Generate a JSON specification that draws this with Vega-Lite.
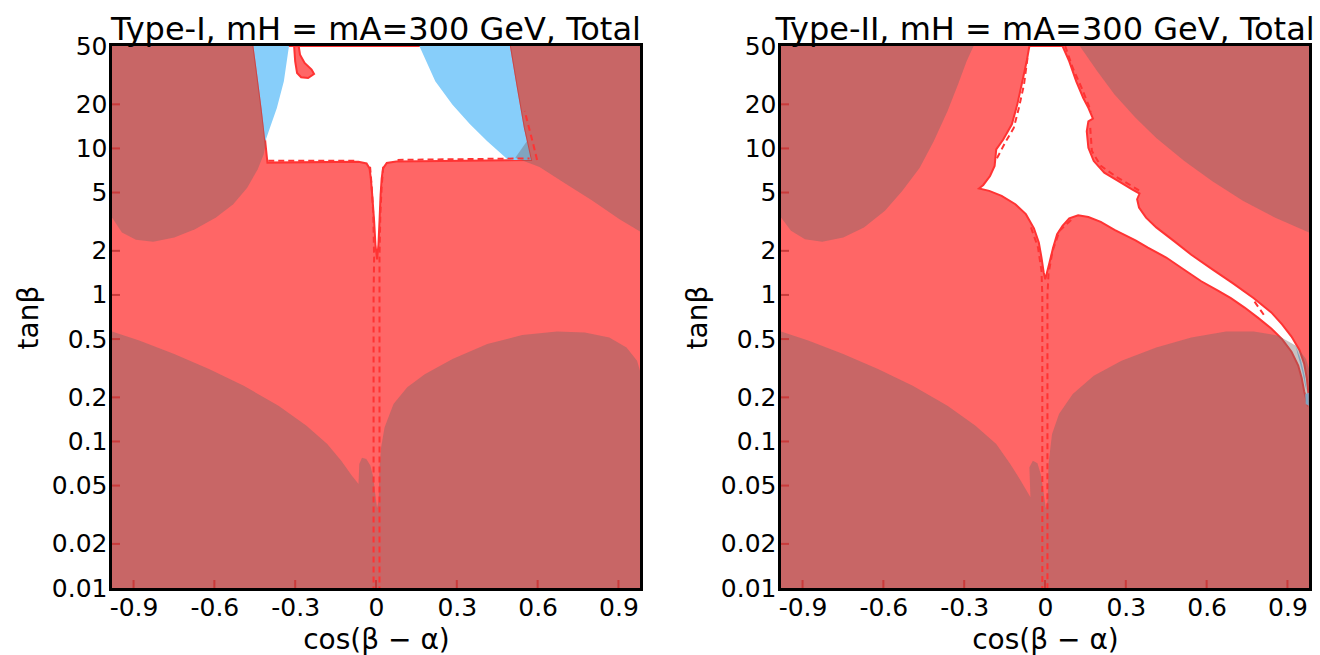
{
"$schema": "https://vega.github.io/schema/vega-lite/v6.json",
"padding": {"left": 12, "top": 11, "right": 5, "bottom": 0},
"spacing": 37,
"config": {
  "font": "DejaVu Sans",
  "view": {"stroke": "black", "strokeWidth": 6},
  "axis": {"grid": false, "domain": false, "ticks": false, "labelFontSize": 25, "labelColor": "black", "titleFontSize": 28, "titleFontWeight": "normal", "titleColor": "black", "labelFlush": false, "labelOverlap": false},
  "title": {"fontSize": 32, "fontWeight": "normal", "color": "black", "anchor": "middle", "offset": -13, "baseline": "alphabetic"}
},
"data": {"values": [
{"p":"I","c":"bg","id":0,"o":0,"x":-0.98,"y":0.01},
{"p":"I","c":"bg","id":0,"o":1,"x":0.98,"y":0.01},
{"p":"I","c":"bg","id":0,"o":2,"x":0.98,"y":50},
{"p":"I","c":"bg","id":0,"o":3,"x":-0.98,"y":50},
{"p":"I","c":"bg","id":0,"o":4,"x":-0.98,"y":0.01},

{"p":"I","c":"w","id":1,"o":0,"x":-0.455,"y":50},
{"p":"I","c":"w","id":1,"o":1,"x":-0.433,"y":24.5},
{"p":"I","c":"w","id":1,"o":2,"x":-0.416,"y":13.8},
{"p":"I","c":"w","id":1,"o":3,"x":-0.41,"y":10.6},
{"p":"I","c":"w","id":1,"o":4,"x":-0.403,"y":8.0},
{"p":"I","c":"w","id":1,"o":5,"x":-0.065,"y":8.1},
{"p":"I","c":"w","id":1,"o":6,"x":-0.035,"y":7.9},
{"p":"I","c":"w","id":1,"o":7,"x":-0.024,"y":7.3},
{"p":"I","c":"w","id":1,"o":8,"x":-0.019,"y":6.2},
{"p":"I","c":"w","id":1,"o":9,"x":-0.014,"y":4.8},
{"p":"I","c":"w","id":1,"o":10,"x":-0.007,"y":3.2},
{"p":"I","c":"w","id":1,"o":11,"x":-0.002,"y":2.2},
{"p":"I","c":"w","id":1,"o":12,"x":0.004,"y":1.75},
{"p":"I","c":"w","id":1,"o":13,"x":0.009,"y":2.2},
{"p":"I","c":"w","id":1,"o":14,"x":0.013,"y":3.2},
{"p":"I","c":"w","id":1,"o":15,"x":0.017,"y":4.8},
{"p":"I","c":"w","id":1,"o":16,"x":0.021,"y":6.2},
{"p":"I","c":"w","id":1,"o":17,"x":0.026,"y":7.3},
{"p":"I","c":"w","id":1,"o":18,"x":0.04,"y":7.95},
{"p":"I","c":"w","id":1,"o":19,"x":0.075,"y":8.15},
{"p":"I","c":"w","id":1,"o":20,"x":0.575,"y":8.35},
{"p":"I","c":"w","id":1,"o":21,"x":0.56,"y":11.2},
{"p":"I","c":"w","id":1,"o":22,"x":0.549,"y":13.8},
{"p":"I","c":"w","id":1,"o":23,"x":0.523,"y":25.9},
{"p":"I","c":"w","id":1,"o":24,"x":0.497,"y":50},
{"p":"I","c":"w","id":1,"o":25,"x":-0.455,"y":50},

{"p":"I","c":"b","id":2,"o":0,"x":-0.455,"y":50},
{"p":"I","c":"b","id":2,"o":1,"x":-0.323,"y":50},
{"p":"I","c":"b","id":2,"o":2,"x":-0.342,"y":28.7},
{"p":"I","c":"b","id":2,"o":3,"x":-0.368,"y":18.9},
{"p":"I","c":"b","id":2,"o":4,"x":-0.394,"y":13.8},
{"p":"I","c":"b","id":2,"o":5,"x":-0.411,"y":11.2},
{"p":"I","c":"b","id":2,"o":6,"x":-0.425,"y":18.9},
{"p":"I","c":"b","id":2,"o":7,"x":-0.441,"y":31.9},
{"p":"I","c":"b","id":2,"o":8,"x":-0.455,"y":50},

{"p":"I","c":"b","id":3,"o":0,"x":0.161,"y":50},
{"p":"I","c":"b","id":3,"o":1,"x":0.22,"y":28.7},
{"p":"I","c":"b","id":3,"o":2,"x":0.284,"y":19.9},
{"p":"I","c":"b","id":3,"o":3,"x":0.349,"y":14.6},
{"p":"I","c":"b","id":3,"o":4,"x":0.413,"y":11.2},
{"p":"I","c":"b","id":3,"o":5,"x":0.491,"y":8.32},
{"p":"I","c":"b","id":3,"o":6,"x":0.575,"y":8.35},
{"p":"I","c":"b","id":3,"o":7,"x":0.56,"y":11.2},
{"p":"I","c":"b","id":3,"o":8,"x":0.549,"y":13.8},
{"p":"I","c":"b","id":3,"o":9,"x":0.523,"y":25.9},
{"p":"I","c":"b","id":3,"o":10,"x":0.497,"y":50},
{"p":"I","c":"b","id":3,"o":11,"x":0.161,"y":50},

{"p":"I","c":"r","id":4,"o":0,"x":-0.304,"y":50},
{"p":"I","c":"r","id":4,"o":1,"x":-0.3,"y":39.3},
{"p":"I","c":"r","id":4,"o":2,"x":-0.293,"y":32.7},
{"p":"I","c":"r","id":4,"o":3,"x":-0.278,"y":30.6},
{"p":"I","c":"r","id":4,"o":4,"x":-0.252,"y":30.2},
{"p":"I","c":"r","id":4,"o":5,"x":-0.23,"y":32.2},
{"p":"I","c":"r","id":4,"o":6,"x":-0.239,"y":34.5},
{"p":"I","c":"r","id":4,"o":7,"x":-0.265,"y":38.3},
{"p":"I","c":"r","id":4,"o":8,"x":-0.282,"y":43.6},
{"p":"I","c":"r","id":4,"o":9,"x":-0.287,"y":50},
{"p":"I","c":"r","id":4,"o":10,"x":-0.304,"y":50},

{"p":"I","c":"d","id":5,"o":0,"x":-0.98,"y":50},
{"p":"I","c":"d","id":5,"o":1,"x":-0.455,"y":50},
{"p":"I","c":"d","id":5,"o":2,"x":-0.433,"y":24.5},
{"p":"I","c":"d","id":5,"o":3,"x":-0.416,"y":13.8},
{"p":"I","c":"d","id":5,"o":4,"x":-0.41,"y":10.6},
{"p":"I","c":"d","id":5,"o":5,"x":-0.417,"y":9.1},
{"p":"I","c":"d","id":5,"o":6,"x":-0.439,"y":7.2},
{"p":"I","c":"d","id":5,"o":7,"x":-0.478,"y":5.4},
{"p":"I","c":"d","id":5,"o":8,"x":-0.53,"y":4.16},
{"p":"I","c":"d","id":5,"o":9,"x":-0.594,"y":3.38},
{"p":"I","c":"d","id":5,"o":10,"x":-0.672,"y":2.81},
{"p":"I","c":"d","id":5,"o":11,"x":-0.749,"y":2.47},
{"p":"I","c":"d","id":5,"o":12,"x":-0.827,"y":2.31},
{"p":"I","c":"d","id":5,"o":13,"x":-0.891,"y":2.38},
{"p":"I","c":"d","id":5,"o":14,"x":-0.943,"y":2.67},
{"p":"I","c":"d","id":5,"o":15,"x":-0.98,"y":3.38},
{"p":"I","c":"d","id":5,"o":16,"x":-0.98,"y":50},

{"p":"I","c":"d","id":6,"o":0,"x":0.497,"y":50},
{"p":"I","c":"d","id":6,"o":1,"x":0.98,"y":50},
{"p":"I","c":"d","id":6,"o":2,"x":0.98,"y":2.71},
{"p":"I","c":"d","id":6,"o":3,"x":0.904,"y":3.29},
{"p":"I","c":"d","id":6,"o":4,"x":0.801,"y":4.43},
{"p":"I","c":"d","id":6,"o":5,"x":0.698,"y":5.84},
{"p":"I","c":"d","id":6,"o":6,"x":0.607,"y":7.46},
{"p":"I","c":"d","id":6,"o":7,"x":0.517,"y":8.64},
{"p":"I","c":"d","id":6,"o":8,"x":0.56,"y":11.2},
{"p":"I","c":"d","id":6,"o":9,"x":0.549,"y":13.8},
{"p":"I","c":"d","id":6,"o":10,"x":0.523,"y":25.9},
{"p":"I","c":"d","id":6,"o":11,"x":0.497,"y":50},

{"p":"I","c":"d","id":7,"o":0,"x":-0.98,"y":0.01},
{"p":"I","c":"d","id":7,"o":1,"x":-0.98,"y":0.564},
{"p":"I","c":"d","id":7,"o":2,"x":-0.879,"y":0.488},
{"p":"I","c":"d","id":7,"o":3,"x":-0.749,"y":0.395},
{"p":"I","c":"d","id":7,"o":4,"x":-0.62,"y":0.312},
{"p":"I","c":"d","id":7,"o":5,"x":-0.491,"y":0.24},
{"p":"I","c":"d","id":7,"o":6,"x":-0.362,"y":0.175},
{"p":"I","c":"d","id":7,"o":7,"x":-0.258,"y":0.128},
{"p":"I","c":"d","id":7,"o":8,"x":-0.181,"y":0.0962},
{"p":"I","c":"d","id":7,"o":9,"x":-0.129,"y":0.074},
{"p":"I","c":"d","id":7,"o":10,"x":-0.09,"y":0.0585},
{"p":"I","c":"d","id":7,"o":11,"x":-0.065,"y":0.0513},
{"p":"I","c":"d","id":7,"o":12,"x":-0.062,"y":0.0703},
{"p":"I","c":"d","id":7,"o":13,"x":-0.052,"y":0.0773},
{"p":"I","c":"d","id":7,"o":14,"x":-0.036,"y":0.076},
{"p":"I","c":"d","id":7,"o":15,"x":-0.021,"y":0.0685},
{"p":"I","c":"d","id":7,"o":16,"x":-0.01,"y":0.057},
{"p":"I","c":"d","id":7,"o":17,"x":-0.003,"y":0.0439},
{"p":"I","c":"d","id":7,"o":18,"x":0.004,"y":0.035},
{"p":"I","c":"d","id":7,"o":19,"x":0.004,"y":0.01},
{"p":"I","c":"d","id":7,"o":20,"x":-0.98,"y":0.01},

{"p":"I","c":"d","id":8,"o":0,"x":0.004,"y":0.01},
{"p":"I","c":"d","id":8,"o":1,"x":0.004,"y":0.035},
{"p":"I","c":"d","id":8,"o":2,"x":0.01,"y":0.0395},
{"p":"I","c":"d","id":8,"o":3,"x":0.013,"y":0.0667},
{"p":"I","c":"d","id":8,"o":4,"x":0.019,"y":0.0912},
{"p":"I","c":"d","id":8,"o":5,"x":0.032,"y":0.125},
{"p":"I","c":"d","id":8,"o":6,"x":0.065,"y":0.18},
{"p":"I","c":"d","id":8,"o":7,"x":0.116,"y":0.234},
{"p":"I","c":"d","id":8,"o":8,"x":0.181,"y":0.288},
{"p":"I","c":"d","id":8,"o":9,"x":0.284,"y":0.366},
{"p":"I","c":"d","id":8,"o":10,"x":0.413,"y":0.462},
{"p":"I","c":"d","id":8,"o":11,"x":0.543,"y":0.532},
{"p":"I","c":"d","id":8,"o":12,"x":0.672,"y":0.564},
{"p":"I","c":"d","id":8,"o":13,"x":0.775,"y":0.555},
{"p":"I","c":"d","id":8,"o":14,"x":0.866,"y":0.513},
{"p":"I","c":"d","id":8,"o":15,"x":0.93,"y":0.438},
{"p":"I","c":"d","id":8,"o":16,"x":0.969,"y":0.356},
{"p":"I","c":"d","id":8,"o":17,"x":0.98,"y":0.304},
{"p":"I","c":"d","id":8,"o":18,"x":0.98,"y":0.01},
{"p":"I","c":"d","id":8,"o":19,"x":0.004,"y":0.01},

{"p":"I","c":"s","id":10,"o":0,"x":-0.022,"y":7.5},
{"p":"I","c":"s","id":10,"o":1,"x":-0.016,"y":5.5},
{"p":"I","c":"s","id":10,"o":2,"x":-0.01,"y":3.5},
{"p":"I","c":"s","id":10,"o":3,"x":-0.007,"y":1.8},
{"p":"I","c":"s","id":10,"o":4,"x":-0.009,"y":1.0},
{"p":"I","c":"s","id":10,"o":5,"x":-0.009,"y":0.01},
{"p":"I","c":"s","id":11,"o":0,"x":0.027,"y":7.5},
{"p":"I","c":"s","id":11,"o":1,"x":0.021,"y":5.5},
{"p":"I","c":"s","id":11,"o":2,"x":0.016,"y":3.5},
{"p":"I","c":"s","id":11,"o":3,"x":0.013,"y":1.8},
{"p":"I","c":"s","id":11,"o":4,"x":0.013,"y":1.0},
{"p":"I","c":"s","id":11,"o":5,"x":0.013,"y":0.01},
{"p":"I","c":"s","id":12,"o":0,"x":0.598,"y":8.35},
{"p":"I","c":"s","id":12,"o":1,"x":0.582,"y":11.0},
{"p":"I","c":"s","id":12,"o":2,"x":0.565,"y":14.5},
{"p":"I","c":"s","id":12,"o":3,"x":0.552,"y":18.0},
{"p":"I","c":"s","id":13,"o":0,"x":-0.4,"y":8.25},
{"p":"I","c":"s","id":13,"o":1,"x":-0.07,"y":8.25},
{"p":"I","c":"s","id":14,"o":0,"x":0.08,"y":8.35},
{"p":"I","c":"s","id":14,"o":1,"x":0.57,"y":8.55},

{"p":"I","c":"t","id":20,"o":0,"x":-0.9,"y":0.01},{"p":"I","c":"t","id":20,"o":1,"x":-0.9,"y":0.01134},
{"p":"I","c":"t","id":21,"o":0,"x":-0.6,"y":0.01},{"p":"I","c":"t","id":21,"o":1,"x":-0.6,"y":0.01134},
{"p":"I","c":"t","id":22,"o":0,"x":-0.3,"y":0.01},{"p":"I","c":"t","id":22,"o":1,"x":-0.3,"y":0.01134},
{"p":"I","c":"t","id":23,"o":0,"x":0,"y":0.01},{"p":"I","c":"t","id":23,"o":1,"x":0,"y":0.01134},
{"p":"I","c":"t","id":24,"o":0,"x":0.3,"y":0.01},{"p":"I","c":"t","id":24,"o":1,"x":0.3,"y":0.01134},
{"p":"I","c":"t","id":25,"o":0,"x":0.6,"y":0.01},{"p":"I","c":"t","id":25,"o":1,"x":0.6,"y":0.01134},
{"p":"I","c":"t","id":26,"o":0,"x":0.9,"y":0.01},{"p":"I","c":"t","id":26,"o":1,"x":0.9,"y":0.01134},
{"p":"I","c":"t","id":27,"o":0,"x":-0.98,"y":0.02},{"p":"I","c":"t","id":27,"o":1,"x":-0.9503,"y":0.02},
{"p":"I","c":"t","id":28,"o":0,"x":-0.98,"y":0.05},{"p":"I","c":"t","id":28,"o":1,"x":-0.9503,"y":0.05},
{"p":"I","c":"t","id":29,"o":0,"x":-0.98,"y":0.1},{"p":"I","c":"t","id":29,"o":1,"x":-0.9503,"y":0.1},
{"p":"I","c":"t","id":30,"o":0,"x":-0.98,"y":0.2},{"p":"I","c":"t","id":30,"o":1,"x":-0.9503,"y":0.2},
{"p":"I","c":"t","id":31,"o":0,"x":-0.98,"y":0.5},{"p":"I","c":"t","id":31,"o":1,"x":-0.9503,"y":0.5},
{"p":"I","c":"t","id":32,"o":0,"x":-0.98,"y":1},{"p":"I","c":"t","id":32,"o":1,"x":-0.9503,"y":1},
{"p":"I","c":"t","id":33,"o":0,"x":-0.98,"y":2},{"p":"I","c":"t","id":33,"o":1,"x":-0.9503,"y":2},
{"p":"I","c":"t","id":34,"o":0,"x":-0.98,"y":5},{"p":"I","c":"t","id":34,"o":1,"x":-0.9503,"y":5},
{"p":"I","c":"t","id":35,"o":0,"x":-0.98,"y":10},{"p":"I","c":"t","id":35,"o":1,"x":-0.9503,"y":10},
{"p":"I","c":"t","id":36,"o":0,"x":-0.98,"y":20},{"p":"I","c":"t","id":36,"o":1,"x":-0.9503,"y":20},

{"p":"II","c":"bg","id":0,"o":0,"x":-0.98,"y":0.01},
{"p":"II","c":"bg","id":0,"o":1,"x":0.98,"y":0.01},
{"p":"II","c":"bg","id":0,"o":2,"x":0.98,"y":50},
{"p":"II","c":"bg","id":0,"o":3,"x":-0.98,"y":50},
{"p":"II","c":"bg","id":0,"o":4,"x":-0.98,"y":0.01},

{"p":"II","c":"w","id":1,"o":0,"x":-0.058,"y":50},
{"p":"II","c":"w","id":1,"o":1,"x":0.065,"y":50},
{"p":"II","c":"w","id":1,"o":2,"x":0.09,"y":39.3},
{"p":"II","c":"w","id":1,"o":3,"x":0.116,"y":28.7},
{"p":"II","c":"w","id":1,"o":4,"x":0.142,"y":22.1},
{"p":"II","c":"w","id":1,"o":5,"x":0.161,"y":18.9},
{"p":"II","c":"w","id":1,"o":6,"x":0.178,"y":16.0},
{"p":"II","c":"w","id":1,"o":7,"x":0.161,"y":15.3},
{"p":"II","c":"w","id":1,"o":8,"x":0.155,"y":13.1},
{"p":"II","c":"w","id":1,"o":9,"x":0.161,"y":10.1},
{"p":"II","c":"w","id":1,"o":10,"x":0.181,"y":8.2},
{"p":"II","c":"w","id":1,"o":11,"x":0.22,"y":6.83},
{"p":"II","c":"w","id":1,"o":12,"x":0.271,"y":6.0},
{"p":"II","c":"w","id":1,"o":13,"x":0.323,"y":5.26},
{"p":"II","c":"w","id":1,"o":14,"x":0.351,"y":4.92},
{"p":"II","c":"w","id":1,"o":15,"x":0.342,"y":4.5},
{"p":"II","c":"w","id":1,"o":16,"x":0.349,"y":3.95},
{"p":"II","c":"w","id":1,"o":17,"x":0.375,"y":3.37},
{"p":"II","c":"w","id":1,"o":18,"x":0.413,"y":2.89},
{"p":"II","c":"w","id":1,"o":19,"x":0.478,"y":2.34},
{"p":"II","c":"w","id":1,"o":20,"x":0.543,"y":1.88},
{"p":"II","c":"w","id":1,"o":21,"x":0.62,"y":1.5},
{"p":"II","c":"w","id":1,"o":22,"x":0.698,"y":1.2},
{"p":"II","c":"w","id":1,"o":23,"x":0.775,"y":0.95},
{"p":"II","c":"w","id":1,"o":24,"x":0.84,"y":0.76},
{"p":"II","c":"w","id":1,"o":25,"x":0.88,"y":0.63},
{"p":"II","c":"w","id":1,"o":26,"x":0.915,"y":0.52},
{"p":"II","c":"w","id":1,"o":27,"x":0.945,"y":0.42},
{"p":"II","c":"w","id":1,"o":28,"x":0.962,"y":0.34},
{"p":"II","c":"w","id":1,"o":29,"x":0.972,"y":0.27},
{"p":"II","c":"w","id":1,"o":30,"x":0.978,"y":0.21},
{"p":"II","c":"w","id":1,"o":31,"x":0.979,"y":0.19},
{"p":"II","c":"w","id":1,"o":32,"x":0.974,"y":0.18},
{"p":"II","c":"w","id":1,"o":33,"x":0.962,"y":0.22},
{"p":"II","c":"w","id":1,"o":34,"x":0.953,"y":0.27},
{"p":"II","c":"w","id":1,"o":35,"x":0.94,"y":0.33},
{"p":"II","c":"w","id":1,"o":36,"x":0.915,"y":0.41},
{"p":"II","c":"w","id":1,"o":37,"x":0.88,"y":0.5},
{"p":"II","c":"w","id":1,"o":38,"x":0.84,"y":0.59},
{"p":"II","c":"w","id":1,"o":39,"x":0.79,"y":0.7},
{"p":"II","c":"w","id":1,"o":40,"x":0.741,"y":0.82},
{"p":"II","c":"w","id":1,"o":41,"x":0.69,"y":0.95},
{"p":"II","c":"w","id":1,"o":42,"x":0.642,"y":1.07},
{"p":"II","c":"w","id":1,"o":43,"x":0.58,"y":1.24},
{"p":"II","c":"w","id":1,"o":44,"x":0.518,"y":1.48},
{"p":"II","c":"w","id":1,"o":45,"x":0.45,"y":1.8},
{"p":"II","c":"w","id":1,"o":46,"x":0.382,"y":2.1},
{"p":"II","c":"w","id":1,"o":47,"x":0.336,"y":2.36},
{"p":"II","c":"w","id":1,"o":48,"x":0.258,"y":2.78},
{"p":"II","c":"w","id":1,"o":49,"x":0.207,"y":3.15},
{"p":"II","c":"w","id":1,"o":50,"x":0.161,"y":3.4},
{"p":"II","c":"w","id":1,"o":51,"x":0.123,"y":3.5},
{"p":"II","c":"w","id":1,"o":52,"x":0.09,"y":3.33},
{"p":"II","c":"w","id":1,"o":53,"x":0.065,"y":2.96},
{"p":"II","c":"w","id":1,"o":54,"x":0.045,"y":2.6},
{"p":"II","c":"w","id":1,"o":55,"x":0.03,"y":2.1},
{"p":"II","c":"w","id":1,"o":56,"x":0.017,"y":1.67},
{"p":"II","c":"w","id":1,"o":57,"x":0.006,"y":1.39},
{"p":"II","c":"w","id":1,"o":58,"x":0.001,"y":1.28},
{"p":"II","c":"w","id":1,"o":59,"x":-0.005,"y":1.43},
{"p":"II","c":"w","id":1,"o":60,"x":-0.013,"y":1.8},
{"p":"II","c":"w","id":1,"o":61,"x":-0.023,"y":2.28},
{"p":"II","c":"w","id":1,"o":62,"x":-0.041,"y":2.85},
{"p":"II","c":"w","id":1,"o":63,"x":-0.071,"y":3.56},
{"p":"II","c":"w","id":1,"o":64,"x":-0.11,"y":4.16},
{"p":"II","c":"w","id":1,"o":65,"x":-0.161,"y":4.74},
{"p":"II","c":"w","id":1,"o":66,"x":-0.207,"y":5.13},
{"p":"II","c":"w","id":1,"o":67,"x":-0.245,"y":5.32},
{"p":"II","c":"w","id":1,"o":68,"x":-0.229,"y":5.63},
{"p":"II","c":"w","id":1,"o":69,"x":-0.204,"y":6.48},
{"p":"II","c":"w","id":1,"o":70,"x":-0.187,"y":7.59},
{"p":"II","c":"w","id":1,"o":71,"x":-0.181,"y":9.85},
{"p":"II","c":"w","id":1,"o":72,"x":-0.155,"y":11.5},
{"p":"II","c":"w","id":1,"o":73,"x":-0.123,"y":14.6},
{"p":"II","c":"w","id":1,"o":74,"x":-0.103,"y":19.9},
{"p":"II","c":"w","id":1,"o":75,"x":-0.084,"y":28.7},
{"p":"II","c":"w","id":1,"o":76,"x":-0.068,"y":39.3},
{"p":"II","c":"w","id":1,"o":77,"x":-0.058,"y":50},

{"p":"II","c":"b","id":2,"o":0,"x":0.93,"y":0.45},
{"p":"II","c":"b","id":2,"o":1,"x":0.95,"y":0.36},
{"p":"II","c":"b","id":2,"o":2,"x":0.964,"y":0.28},
{"p":"II","c":"b","id":2,"o":3,"x":0.972,"y":0.22},
{"p":"II","c":"b","id":2,"o":4,"x":0.966,"y":0.24},
{"p":"II","c":"b","id":2,"o":5,"x":0.955,"y":0.3},
{"p":"II","c":"b","id":2,"o":6,"x":0.94,"y":0.38},
{"p":"II","c":"b","id":2,"o":7,"x":0.93,"y":0.45},
{"p":"II","c":"b","id":3,"o":0,"x":0.966,"y":0.21},
{"p":"II","c":"b","id":3,"o":1,"x":0.979,"y":0.215},
{"p":"II","c":"b","id":3,"o":2,"x":0.979,"y":0.175},
{"p":"II","c":"b","id":3,"o":3,"x":0.968,"y":0.18},
{"p":"II","c":"b","id":3,"o":4,"x":0.966,"y":0.21},

{"p":"II","c":"d","id":5,"o":0,"x":-0.98,"y":50},
{"p":"II","c":"d","id":5,"o":1,"x":-0.265,"y":50},
{"p":"II","c":"d","id":5,"o":2,"x":-0.291,"y":39.3},
{"p":"II","c":"d","id":5,"o":3,"x":-0.323,"y":27.3},
{"p":"II","c":"d","id":5,"o":4,"x":-0.362,"y":17.9},
{"p":"II","c":"d","id":5,"o":5,"x":-0.413,"y":11.2},
{"p":"II","c":"d","id":5,"o":6,"x":-0.465,"y":7.39},
{"p":"II","c":"d","id":5,"o":7,"x":-0.53,"y":5.13},
{"p":"II","c":"d","id":5,"o":8,"x":-0.594,"y":3.75},
{"p":"II","c":"d","id":5,"o":9,"x":-0.672,"y":2.89},
{"p":"II","c":"d","id":5,"o":10,"x":-0.749,"y":2.47},
{"p":"II","c":"d","id":5,"o":11,"x":-0.827,"y":2.31},
{"p":"II","c":"d","id":5,"o":12,"x":-0.891,"y":2.4},
{"p":"II","c":"d","id":5,"o":13,"x":-0.943,"y":2.74},
{"p":"II","c":"d","id":5,"o":14,"x":-0.98,"y":3.38},
{"p":"II","c":"d","id":5,"o":15,"x":-0.98,"y":50},

{"p":"II","c":"d","id":6,"o":0,"x":0.129,"y":50},
{"p":"II","c":"d","id":6,"o":1,"x":0.98,"y":50},
{"p":"II","c":"d","id":6,"o":2,"x":0.98,"y":2.67},
{"p":"II","c":"d","id":6,"o":3,"x":0.853,"y":3.38},
{"p":"II","c":"d","id":6,"o":4,"x":0.736,"y":4.38},
{"p":"II","c":"d","id":6,"o":5,"x":0.62,"y":6.0},
{"p":"II","c":"d","id":6,"o":6,"x":0.517,"y":8.2},
{"p":"II","c":"d","id":6,"o":7,"x":0.413,"y":11.8},
{"p":"II","c":"d","id":6,"o":8,"x":0.336,"y":16.2},
{"p":"II","c":"d","id":6,"o":9,"x":0.258,"y":23.3},
{"p":"II","c":"d","id":6,"o":10,"x":0.194,"y":33.6},
{"p":"II","c":"d","id":6,"o":11,"x":0.129,"y":50},

{"p":"II","c":"d","id":7,"o":0,"x":-0.98,"y":0.01},
{"p":"II","c":"d","id":7,"o":1,"x":-0.98,"y":0.564},
{"p":"II","c":"d","id":7,"o":2,"x":-0.879,"y":0.488},
{"p":"II","c":"d","id":7,"o":3,"x":-0.749,"y":0.395},
{"p":"II","c":"d","id":7,"o":4,"x":-0.62,"y":0.312},
{"p":"II","c":"d","id":7,"o":5,"x":-0.491,"y":0.24},
{"p":"II","c":"d","id":7,"o":6,"x":-0.362,"y":0.175},
{"p":"II","c":"d","id":7,"o":7,"x":-0.258,"y":0.128},
{"p":"II","c":"d","id":7,"o":8,"x":-0.181,"y":0.0962},
{"p":"II","c":"d","id":7,"o":9,"x":-0.129,"y":0.0703},
{"p":"II","c":"d","id":7,"o":10,"x":-0.09,"y":0.054},
{"p":"II","c":"d","id":7,"o":11,"x":-0.054,"y":0.0416},
{"p":"II","c":"d","id":7,"o":12,"x":-0.058,"y":0.0667},
{"p":"II","c":"d","id":7,"o":13,"x":-0.045,"y":0.074},
{"p":"II","c":"d","id":7,"o":14,"x":-0.028,"y":0.071},
{"p":"II","c":"d","id":7,"o":15,"x":-0.016,"y":0.06},
{"p":"II","c":"d","id":7,"o":16,"x":-0.006,"y":0.046},
{"p":"II","c":"d","id":7,"o":17,"x":0.003,"y":0.035},
{"p":"II","c":"d","id":7,"o":18,"x":0.003,"y":0.01},
{"p":"II","c":"d","id":7,"o":19,"x":-0.98,"y":0.01},

{"p":"II","c":"d","id":8,"o":0,"x":0.003,"y":0.01},
{"p":"II","c":"d","id":8,"o":1,"x":0.003,"y":0.035},
{"p":"II","c":"d","id":8,"o":2,"x":0.01,"y":0.0395},
{"p":"II","c":"d","id":8,"o":3,"x":0.013,"y":0.07},
{"p":"II","c":"d","id":8,"o":4,"x":0.026,"y":0.112},
{"p":"II","c":"d","id":8,"o":5,"x":0.052,"y":0.154},
{"p":"II","c":"d","id":8,"o":6,"x":0.103,"y":0.211},
{"p":"II","c":"d","id":8,"o":7,"x":0.181,"y":0.281},
{"p":"II","c":"d","id":8,"o":8,"x":0.284,"y":0.356},
{"p":"II","c":"d","id":8,"o":9,"x":0.413,"y":0.438},
{"p":"II","c":"d","id":8,"o":10,"x":0.543,"y":0.513},
{"p":"II","c":"d","id":8,"o":11,"x":0.672,"y":0.564},
{"p":"II","c":"d","id":8,"o":12,"x":0.775,"y":0.564},
{"p":"II","c":"d","id":8,"o":13,"x":0.866,"y":0.527},
{"p":"II","c":"d","id":8,"o":14,"x":0.93,"y":0.451},
{"p":"II","c":"d","id":8,"o":15,"x":0.969,"y":0.366},
{"p":"II","c":"d","id":8,"o":16,"x":0.98,"y":0.313},
{"p":"II","c":"d","id":8,"o":17,"x":0.98,"y":0.01},
{"p":"II","c":"d","id":8,"o":18,"x":0.003,"y":0.01},

{"p":"II","c":"s","id":10,"o":0,"x":-0.052,"y":2.89},
{"p":"II","c":"s","id":10,"o":1,"x":-0.026,"y":2.11},
{"p":"II","c":"s","id":10,"o":2,"x":-0.013,"y":1.46},
{"p":"II","c":"s","id":10,"o":3,"x":-0.01,"y":1.0},
{"p":"II","c":"s","id":10,"o":4,"x":-0.01,"y":0.01},
{"p":"II","c":"s","id":11,"o":0,"x":0.097,"y":3.25},
{"p":"II","c":"s","id":11,"o":1,"x":0.054,"y":2.74},
{"p":"II","c":"s","id":11,"o":2,"x":0.028,"y":2.0},
{"p":"II","c":"s","id":11,"o":3,"x":0.013,"y":1.39},
{"p":"II","c":"s","id":11,"o":4,"x":0.009,"y":1.0},
{"p":"II","c":"s","id":11,"o":5,"x":0.009,"y":0.01},
{"p":"II","c":"s","id":12,"o":0,"x":-0.065,"y":41.4},
{"p":"II","c":"s","id":12,"o":1,"x":-0.078,"y":27.3},
{"p":"II","c":"s","id":12,"o":2,"x":-0.097,"y":18.9},
{"p":"II","c":"s","id":12,"o":3,"x":-0.116,"y":13.8},
{"p":"II","c":"s","id":12,"o":4,"x":-0.145,"y":11.2},
{"p":"II","c":"s","id":12,"o":5,"x":-0.181,"y":8.4},
{"p":"II","c":"s","id":13,"o":0,"x":0.075,"y":50},
{"p":"II","c":"s","id":13,"o":1,"x":0.103,"y":35.4},
{"p":"II","c":"s","id":13,"o":2,"x":0.136,"y":25.9},
{"p":"II","c":"s","id":13,"o":3,"x":0.161,"y":19.9},
{"p":"II","c":"s","id":13,"o":4,"x":0.171,"y":17.8},
{"p":"II","c":"s","id":14,"o":0,"x":0.168,"y":13.8},
{"p":"II","c":"s","id":14,"o":1,"x":0.174,"y":9.6},
{"p":"II","c":"s","id":14,"o":2,"x":0.207,"y":7.6},
{"p":"II","c":"s","id":14,"o":3,"x":0.271,"y":6.3},
{"p":"II","c":"s","id":14,"o":4,"x":0.349,"y":5.18},
{"p":"II","c":"s","id":15,"o":0,"x":0.778,"y":0.9},
{"p":"II","c":"s","id":15,"o":1,"x":0.815,"y":0.72},

{"p":"II","c":"t","id":20,"o":0,"x":-0.9,"y":0.01},{"p":"II","c":"t","id":20,"o":1,"x":-0.9,"y":0.01134},
{"p":"II","c":"t","id":21,"o":0,"x":-0.6,"y":0.01},{"p":"II","c":"t","id":21,"o":1,"x":-0.6,"y":0.01134},
{"p":"II","c":"t","id":22,"o":0,"x":-0.3,"y":0.01},{"p":"II","c":"t","id":22,"o":1,"x":-0.3,"y":0.01134},
{"p":"II","c":"t","id":23,"o":0,"x":0,"y":0.01},{"p":"II","c":"t","id":23,"o":1,"x":0,"y":0.01134},
{"p":"II","c":"t","id":24,"o":0,"x":0.3,"y":0.01},{"p":"II","c":"t","id":24,"o":1,"x":0.3,"y":0.01134},
{"p":"II","c":"t","id":25,"o":0,"x":0.6,"y":0.01},{"p":"II","c":"t","id":25,"o":1,"x":0.6,"y":0.01134},
{"p":"II","c":"t","id":26,"o":0,"x":0.9,"y":0.01},{"p":"II","c":"t","id":26,"o":1,"x":0.9,"y":0.01134},
{"p":"II","c":"t","id":27,"o":0,"x":-0.98,"y":0.02},{"p":"II","c":"t","id":27,"o":1,"x":-0.9503,"y":0.02},
{"p":"II","c":"t","id":28,"o":0,"x":-0.98,"y":0.05},{"p":"II","c":"t","id":28,"o":1,"x":-0.9503,"y":0.05},
{"p":"II","c":"t","id":29,"o":0,"x":-0.98,"y":0.1},{"p":"II","c":"t","id":29,"o":1,"x":-0.9503,"y":0.1},
{"p":"II","c":"t","id":30,"o":0,"x":-0.98,"y":0.2},{"p":"II","c":"t","id":30,"o":1,"x":-0.9503,"y":0.2},
{"p":"II","c":"t","id":31,"o":0,"x":-0.98,"y":0.5},{"p":"II","c":"t","id":31,"o":1,"x":-0.9503,"y":0.5},
{"p":"II","c":"t","id":32,"o":0,"x":-0.98,"y":1},{"p":"II","c":"t","id":32,"o":1,"x":-0.9503,"y":1},
{"p":"II","c":"t","id":33,"o":0,"x":-0.98,"y":2},{"p":"II","c":"t","id":33,"o":1,"x":-0.9503,"y":2},
{"p":"II","c":"t","id":34,"o":0,"x":-0.98,"y":5},{"p":"II","c":"t","id":34,"o":1,"x":-0.9503,"y":5},
{"p":"II","c":"t","id":35,"o":0,"x":-0.98,"y":10},{"p":"II","c":"t","id":35,"o":1,"x":-0.9503,"y":10},
{"p":"II","c":"t","id":36,"o":0,"x":-0.98,"y":20},{"p":"II","c":"t","id":36,"o":1,"x":-0.9503,"y":20}
]},
"hconcat": [
 {
  "width": 528, "height": 542,
  "title": {"text": "Type-I, mH = mA=300 GeV, Total"},
  "transform": [{"filter": "datum.p == 'I'"}],
  "encoding": {
    "x": {"field": "x", "type": "quantitative", "title": "cos(β − α)", "scale": {"domain": [-0.98, 0.98], "nice": false, "zero": false},
          "axis": {"values": [-0.9, -0.6, -0.3, 0, 0.3, 0.6, 0.9], "labelExpr": "replace(format(datum.value, '.1~f'), '\u2212', '-')", "labelPadding": 7, "titlePadding": 6}},
    "y": {"field": "y", "type": "quantitative", "title": "tanβ", "scale": {"type": "log", "domain": [0.01, 50], "nice": false},
          "axis": {"values": [0.01, 0.02, 0.05, 0.1, 0.2, 0.5, 1, 2, 5, 10, 20, 50], "format": "~g", "labelPadding": 5, "titlePadding": 8}},
    "order": {"field": "o", "type": "quantitative"},
    "detail": {"field": "id", "type": "nominal"}
  },
  "layer": [
    {"transform": [{"filter": "datum.c == 'bg'"}], "mark": {"type": "line", "fill": "#ff6666", "stroke": "#ff6666", "strokeWidth": 0, "clip": true}},
    {"transform": [{"filter": "datum.c == 'w'"}], "mark": {"type": "line", "fill": "white", "stroke": "#ff3333", "strokeWidth": 2, "clip": true}},
    {"transform": [{"filter": "datum.c == 'b'"}], "mark": {"type": "line", "fill": "#87cefa", "stroke": "#87cefa", "strokeWidth": 0, "clip": true}},
    {"transform": [{"filter": "datum.c == 'r'"}], "mark": {"type": "line", "fill": "#ff6666", "stroke": "#ff3333", "strokeWidth": 2, "clip": true}},
    {"transform": [{"filter": "datum.c == 'd'"}], "mark": {"type": "line", "fill": "#766666", "fillOpacity": 0.4, "stroke": "#766666", "strokeWidth": 0, "clip": true}},
    {"transform": [{"filter": "datum.c == 's'"}], "mark": {"type": "line", "stroke": "#ff3333", "strokeWidth": 2, "strokeDash": [6, 4], "clip": true}},
    {"transform": [{"filter": "datum.c == 't'"}], "mark": {"type": "line", "stroke": "#c83a3a", "strokeWidth": 2, "clip": true}}
  ]
 },
 {
  "width": 528, "height": 542,
  "title": {"text": "Type-II, mH = mA=300 GeV, Total"},
  "transform": [{"filter": "datum.p == 'II'"}],
  "encoding": {
    "x": {"field": "x", "type": "quantitative", "title": "cos(β − α)", "scale": {"domain": [-0.98, 0.98], "nice": false, "zero": false},
          "axis": {"values": [-0.9, -0.6, -0.3, 0, 0.3, 0.6, 0.9], "labelExpr": "replace(format(datum.value, '.1~f'), '\u2212', '-')", "labelPadding": 7, "titlePadding": 6}},
    "y": {"field": "y", "type": "quantitative", "title": "tanβ", "scale": {"type": "log", "domain": [0.01, 50], "nice": false},
          "axis": {"values": [0.01, 0.02, 0.05, 0.1, 0.2, 0.5, 1, 2, 5, 10, 20, 50], "format": "~g", "labelPadding": 5, "titlePadding": 8}},
    "order": {"field": "o", "type": "quantitative"},
    "detail": {"field": "id", "type": "nominal"}
  },
  "layer": [
    {"transform": [{"filter": "datum.c == 'bg'"}], "mark": {"type": "line", "fill": "#ff6666", "stroke": "#ff6666", "strokeWidth": 0, "clip": true}},
    {"transform": [{"filter": "datum.c == 'w'"}], "mark": {"type": "line", "fill": "white", "stroke": "#ff3333", "strokeWidth": 2, "clip": true}},
    {"transform": [{"filter": "datum.c == 'b'"}], "mark": {"type": "line", "fill": "#87cefa", "stroke": "#87cefa", "strokeWidth": 0, "clip": true}},
    {"transform": [{"filter": "datum.c == 'd'"}], "mark": {"type": "line", "fill": "#766666", "fillOpacity": 0.4, "stroke": "#766666", "strokeWidth": 0, "clip": true}},
    {"transform": [{"filter": "datum.c == 's'"}], "mark": {"type": "line", "stroke": "#ff3333", "strokeWidth": 2, "strokeDash": [6, 4], "clip": true}},
    {"transform": [{"filter": "datum.c == 't'"}], "mark": {"type": "line", "stroke": "#c83a3a", "strokeWidth": 2, "clip": true}}
  ]
 }
]
}
